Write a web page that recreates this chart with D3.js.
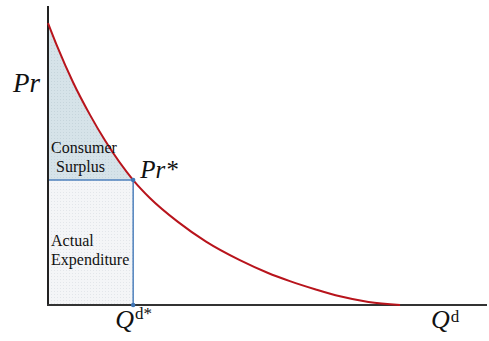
<!DOCTYPE html>
<html>
<head>
<meta charset="utf-8">
<script src="https://cdn.jsdelivr.net/npm/d3@7"></script>
<style>
  html, body { margin: 0; padding: 0; background: #fff; }
  svg { display: block; }
  text { font-family: "Liberation Serif", "Times New Roman", serif; fill: #111; }
</style>
</head>
<body>
<div id="chart"></div>
<script>
// Demand curve (quantity vs price, arbitrary units 0-10)
const quantity = [0, 0.21, 0.57, 0.96, 1.3, 1.94, 2.32, 2.96, 3.6, 4.37, 5.0, 5.51, 6.1, 6.65, 7.3, 8.02]
const price = [9.43, 8.65, 7.45, 6.35, 5.5, 4.18, 3.58, 2.78, 2.12, 1.5, 1.08, 0.8, 0.52, 0.29, 0.1, 0]

// Equilibrium point
const qStar = 1.94
const prStar = 4.18

// Text labels
const areaLabels = [
  { lines: ["Consumer", "Surplus"], q: 0.07, p: 5.1 },
  { lines: ["Actual", "Expenditure"], q: 0.07, p: 1.97 },
]

const width = 489
const height = 341

const svg = d3.select("#chart").append("svg").attr("width", width).attr("height", height)

// Scales
const x = d3.scaleLinear().domain([0, 10]).range([48, 487])
const y = d3.scaleLinear().domain([0, 10]).range([305, 6])

const points = quantity.map((q, i) => ({ q, p: price[i] }))

// Dotted textures for the two regions
const defs = svg.append("defs")

function dotPattern(id, base, dot) {
  const pat = defs
    .append("pattern")
    .attr("id", id)
    .attr("width", 3)
    .attr("height", 3)
    .attr("patternUnits", "userSpaceOnUse")
  pat.append("rect").attr("width", 3).attr("height", 3).attr("fill", base)
  pat.append("rect").attr("width", 1).attr("height", 1).attr("fill", dot)
}
dotPattern("surplusFill", "#d6e3e9", "#c6d5dc")
dotPattern("spendFill", "#f4f5f7", "#e3e6ea")

defs
  .append("clipPath")
  .attr("id", "leftOfStar")
  .append("rect")
  .attr("x", x(0))
  .attr("y", 0)
  .attr("width", x(qStar) - x(0))
  .attr("height", height)

// Consumer surplus: between the curve and Pr*
const surplus = d3
  .area()
  .x((d) => x(d.q))
  .y0(y(prStar))
  .y1((d) => y(d.p))
  .curve(d3.curveMonotoneX)

svg
  .append("path")
  .datum(points)
  .attr("clip-path", "url(#leftOfStar)")
  .attr("fill", "url(#surplusFill)")
  .attr("d", surplus)

// Actual expenditure rectangle
svg
  .append("rect")
  .attr("x", x(0))
  .attr("y", y(prStar))
  .attr("width", x(qStar) - x(0))
  .attr("height", y(0) - y(prStar))
  .attr("fill", "url(#spendFill)")

// Blue guide lines
svg
  .append("path")
  .attr("d", `M${x(0)},${y(prStar)}H${x(qStar)}V${y(0)}`)
  .attr("fill", "none")
  .attr("stroke", "#4f81bd")
  .attr("stroke-width", 1.5)

// Axes
svg
  .append("line")
  .attr("x1", x(0))
  .attr("x2", x(0))
  .attr("y1", y(10))
  .attr("y2", y(0))
  .attr("stroke", "#222")
  .attr("stroke-width", 2)

svg
  .append("line")
  .attr("x1", x(0) - 1)
  .attr("x2", x(10))
  .attr("y1", y(0))
  .attr("y2", y(0))
  .attr("stroke", "#333")
  .attr("stroke-width", 2)

// Demand curve
const line = d3
  .line()
  .x((d) => x(d.q))
  .y((d) => y(d.p))
  .curve(d3.curveMonotoneX)

svg
  .append("path")
  .datum(points)
  .attr("fill", "none")
  .attr("stroke", "#b8141c")
  .attr("stroke-width", 2)
  .attr("d", line)

// Markers at Pr* and Qd*
svg
  .selectAll("circle.marker")
  .data([
    [qStar, prStar],
    [qStar, 0],
  ])
  .enter()
  .append("circle")
  .attr("class", "marker")
  .attr("cx", (d) => x(d[0]))
  .attr("cy", (d) => y(d[1]))
  .attr("r", 2.2)
  .attr("fill", "#3f75b5")

// Region labels
areaLabels.forEach((lab) => {
  const t = svg
    .append("text")
    .attr("x", x(lab.q))
    .attr("y", y(lab.p))
    .attr("font-size", 16)
  lab.lines.forEach((s, i) => {
    t.append("tspan")
      .attr("x", x(lab.q) + (i === 1 && s === "Surplus" ? 5 : 0))
      .attr("dy", i === 0 ? 0 : 19)
      .text(s)
  })
})

// Axis labels
svg.append("text").attr("x", 13).attr("y", 92).attr("font-size", 27).attr("font-style", "italic").text("Pr")

svg
  .append("text")
  .attr("x", x(qStar) + 7)
  .attr("y", y(prStar) - 2)
  .attr("font-size", 25)
  .attr("font-style", "italic")
  .text("Pr*")

function qLabel(qx, sup, supDy) {
  const t = svg.append("text").attr("x", qx).attr("y", 328)
  t.append("tspan").attr("font-size", 26).attr("font-style", "italic").text("Q")
  t.append("tspan").attr("font-size", 17).attr("dx", 1).attr("dy", supDy).text(sup)
}
qLabel(x(qStar) - 18, "d*", -9)
qLabel(431, "d", -6)
</script>
</body>
</html>
